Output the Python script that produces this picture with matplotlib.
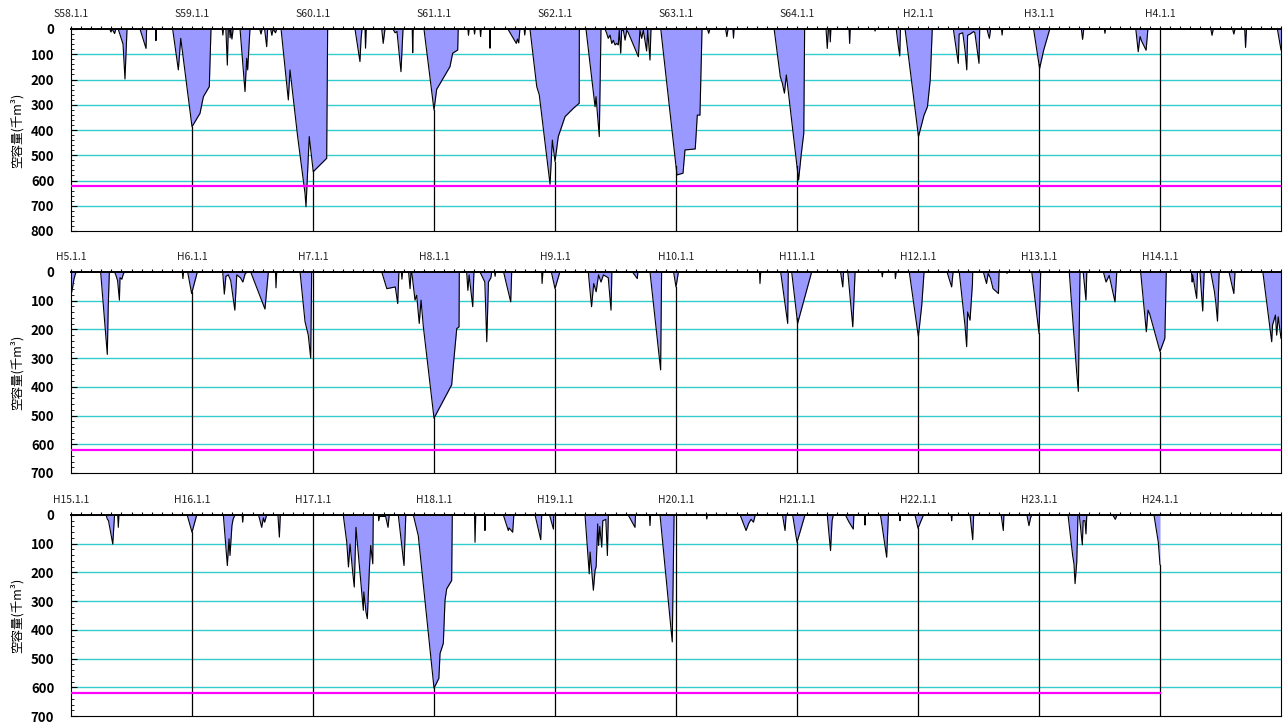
import numpy as np
import matplotlib
matplotlib.use("Agg")
import matplotlib.pyplot as plt
from matplotlib.ticker import MultipleLocator

plt.rcParams['font.family'] = ['Noto Sans CJK JP', 'DejaVu Sans']

# years since the first Jan 1 of each panel, empty capacity (千m3)
p1_labels = ['S58.1.1', 'S59.1.1', 'S60.1.1', 'S61.1.1', 'S62.1.1',
             'S63.1.1', 'S64.1.1', 'H2.1.1', 'H3.1.1', 'H4.1.1']
p1_t = [0, 0.32, 0.33, 0.34, 0.36, 0.37, 0.39, 0.43, 0.446, 0.463,
        0.57, 0.62, 0.625, 0.70, 0.702, 0.705,
        0.84, 0.887, 0.907, 1.0, 1.066, 1.094, 1.143, 1.157,
        1.25, 1.255, 1.26, 1.28, 1.292, 1.30, 1.31, 1.315, 1.32, 1.33, 1.34,
        1.397, 1.438, 1.452, 1.46, 1.479,
        1.56, 1.57, 1.58, 1.60, 1.617, 1.625, 1.65, 1.66, 1.67, 1.69, 1.70,
        1.736, 1.796, 1.810, 1.873, 1.934, 1.942, 1.969, 2.002, 2.113, 2.121,
        2.347, 2.388, 2.397, 2.405, 2.430, 2.434, 2.44,
        2.568, 2.58, 2.595, 2.661, 2.678, 2.694, 2.727, 2.744,
        2.82, 2.824, 2.828,
        2.917, 3.0, 3.022, 3.132, 3.154, 3.196, 3.2,
        3.28, 3.285, 3.29, 3.33, 3.335, 3.34, 3.38, 3.385, 3.39, 3.46, 3.463, 3.466,
        3.61, 3.68, 3.69, 3.70, 3.71, 3.745, 3.75, 3.755,
        3.793, 3.849, 3.870, 3.959, 3.978, 4.0, 4.027, 4.083, 4.152, 4.2, 4.201,
        4.256, 4.331, 4.339, 4.366, 4.38,
        4.413, 4.427, 4.440, 4.455, 4.469, 4.482, 4.496, 4.510, 4.523, 4.531,
        4.543, 4.551, 4.565, 4.579, 4.593, 4.606, 4.689, 4.702, 4.716, 4.730,
        4.757, 4.766, 4.785, 4.793, 4.799,
        4.874, 5.008, 5.058, 5.074, 5.159, 5.176, 5.198, 5.215,
        5.26, 5.27, 5.28, 5.41, 5.42, 5.43, 5.47, 5.475, 5.48,
        5.811, 5.862, 5.879, 5.896, 5.912, 6.013, 6.036, 6.056, 6.063,
        6.24, 6.25, 6.26, 6.27, 6.275, 6.28, 6.43, 6.435, 6.44,
        6.64, 6.645, 6.65, 6.82, 6.835, 6.849, 6.855,
        6.893, 7.004, 7.050, 7.078, 7.101, 7.118,
        7.292, 7.333, 7.34, 7.37, 7.39, 7.403, 7.41, 7.43, 7.46, 7.47, 7.504, 7.51,
        7.57, 7.58, 7.59, 7.60, 7.69, 7.695, 7.70,
        7.955, 8.005, 8.039, 8.089,
        8.35, 8.36, 8.37, 8.54, 8.545, 8.55,
        8.80, 8.82, 8.835, 8.85, 8.885, 8.90, 9.0,
        9.42, 9.43, 9.44, 9.6, 9.61, 9.62, 9.70, 9.707, 9.715, 9.97, 10.0]
p1_v = [0, 0, 12, 0, 18, 0, 0, 60, 198, 0,
        0, 77, 0, 0, 46, 0,
        0, 162, 37, 387, 334, 268, 228, 0,
        0, 24, 0, 0, 143, 0, 0, 35, 0, 40, 0,
        0, 248, 116, 162, 0,
        0, 20, 0, 0, 70, 0, 0, 25, 0, 15, 0,
        0, 281, 162, 426, 651, 704, 426, 565, 512, 0,
        0, 129, 40, 0, 0, 76, 0,
        0, 57, 0, 0, 15, 10, 169, 0,
        0, 94, 0,
        0, 321, 239, 149, 96, 83, 0,
        0, 25, 0, 0, 20, 0, 0, 30, 0, 0, 76, 0,
        0, 57, 40, 55, 0, 0, 24, 0,
        0, 228, 261, 615, 440, 525, 426, 347, 314, 294, 0,
        0, 308, 268, 426, 0,
        0, 17, 37, 24, 57, 45, 63, 57, 63, 5,
        96, 5, 5, 44, 5, 15, 110, 5, 37, 5,
        87, 5, 123, 5, 0,
        0, 578, 571, 479, 475, 341, 341, 0,
        0, 17, 0, 0, 30, 0, 0, 36, 0,
        0, 189, 215, 254, 182, 598, 492, 413, 0,
        0, 77, 0, 0, 51, 0, 0, 57, 0,
        0, 8, 0, 0, 60, 107, 0,
        0, 426, 341, 308, 202, 0,
        0, 136, 20, 15, 90, 162, 25, 20, 10, 15, 136, 0,
        0, 20, 37, 0, 0, 24, 0,
        0, 156, 83, 0,
        0, 41, 0, 0, 17, 0,
        0, 90, 30, 50, 84, 0, 0,
        0, 25, 0, 0, 20, 0, 0, 73, 0, 0, 83]

p2_labels = ['H5.1.1', 'H6.1.1', 'H7.1.1', 'H8.1.1', 'H9.1.1',
             'H10.1.1', 'H11.1.1', 'H12.1.1', 'H13.1.1', 'H14.1.1']
p2_t = [0, 0.014, 0.025, 0.041,
        0.245, 0.300, 0.308, 0.317,
        0.36, 0.37, 0.385, 0.40, 0.405, 0.42, 0.43, 0.44,
        0.92, 0.925, 0.93, 0.964, 0.997, 1.044,
        1.254, 1.267, 1.28, 1.30, 1.32, 1.354, 1.37, 1.40, 1.42, 1.44, 1.46,
        1.485, 1.603, 1.631, 1.69, 1.694, 1.70,
        1.893, 1.934, 1.961, 1.981, 1.989,
        2.568, 2.61, 2.68, 2.70, 2.71, 2.73, 2.735, 2.74, 2.79, 2.802, 2.81,
        2.816, 2.843, 2.857, 2.878, 2.893, 2.912, 3.0, 3.146, 3.160, 3.188, 3.207, 3.209,
        3.27, 3.28, 3.29, 3.32, 3.33,
        3.38, 3.42, 3.436, 3.45, 3.47, 3.477, 3.50, 3.505, 3.51,
        3.575, 3.634, 3.642, 3.89, 3.893, 3.90,
        3.97, 4.0, 4.04,
        4.275, 4.302, 4.32, 4.34, 4.36, 4.38, 4.40, 4.44, 4.463, 4.47,
        4.64, 4.68, 4.685,
        4.785, 4.873, 4.881, 4.98, 5.0, 5.02,
        5.69, 5.694, 5.70,
        5.865, 5.923, 5.928, 5.956, 6.005, 6.121,
        6.36, 6.378, 6.385, 6.42, 6.461, 6.48,
        6.70, 6.705, 6.71, 6.81, 6.813, 6.82,
        6.928, 7.003, 7.031, 7.05,
        7.24, 7.278, 7.29,
        7.341, 7.388, 7.402, 7.41, 7.43, 7.45, 7.452,
        7.54, 7.566, 7.58, 7.60, 7.62, 7.665, 7.67, 7.73, 7.735, 7.74,
        7.94, 8.0, 8.014,
        8.25, 8.311, 8.325, 8.339, 8.365, 8.388, 8.395,
        8.532, 8.554, 8.58, 8.628, 8.643,
        8.840, 8.887, 8.901, 8.914, 9.0, 9.04, 9.052,
        9.26, 9.266, 9.27, 9.303, 9.31, 9.33, 9.353, 9.365,
        9.42, 9.45, 9.462, 9.475, 9.489,
        9.57, 9.61, 9.62,
        9.85, 9.923, 9.93, 9.954, 9.964, 9.977, 10.0]
p2_v = [81, 52, 23, 0,
        0, 287, 116, 0,
        0, 10, 30, 98, 20, 25, 10, 0,
        0, 23, 0, 0, 75, 0,
        0, 77, 15, 10, 30, 133, 10, 20, 35, 5, 0,
        0, 129, 0, 0, 55, 0,
        0, 173, 220, 300, 0,
        0, 58, 52, 110, 0, 0, 25, 0, 0, 58, 0,
        0, 98, 81, 179, 98, 191, 509, 393, 324, 197, 191, 0,
        0, 64, 10, 121, 0,
        0, 35, 243, 35, 20, 0, 0, 15, 0,
        0, 104, 0, 0, 40, 0,
        0, 58, 0,
        0, 121, 40, 69, 10, 35, 10, 20, 133, 0,
        0, 23, 0,
        0, 341, 0, 0, 52, 0,
        0, 40, 0,
        0, 179, 0, 0, 179, 0,
        0, 52, 0, 0, 191, 0,
        0, 17, 0, 0, 23, 0,
        0, 225, 116, 0,
        0, 52, 0,
        0, 185, 260, 139, 168, 40, 0,
        0, 40, 5, 23, 58, 75, 0, 0, 5, 0,
        0, 214, 0,
        0, 347, 416, 0, 0, 98, 0,
        0, 35, 12, 104, 0,
        0, 208, 133, 145, 277, 231, 0,
        0, 35, 10, 92, 0, 0, 136, 0,
        0, 69, 110, 171, 0,
        0, 75, 0,
        0, 243, 185, 150, 220, 156, 231]

p3_labels = ['H15.1.1', 'H16.1.1', 'H17.1.1', 'H18.1.1', 'H19.1.1',
             'H20.1.1', 'H21.1.1', 'H22.1.1', 'H23.1.1', 'H24.1.1']
p3_t = [0, 0.29, 0.30, 0.31, 0.345, 0.36, 0.386, 0.391, 0.396,
        0.96, 1.0, 1.039,
        1.259, 1.292, 1.306, 1.314, 1.33, 1.34, 1.355,
        1.414, 1.419, 1.424, 1.55, 1.576, 1.59, 1.60, 1.617, 1.71, 1.722, 1.73,
        2.25, 2.279, 2.293, 2.306, 2.328, 2.341, 2.355, 2.388, 2.416, 2.42,
        2.438, 2.449, 2.466, 2.477, 2.494, 2.498,
        2.54, 2.543, 2.55, 2.60, 2.62, 2.63,
        2.705, 2.752, 2.767,
        2.829, 2.870, 3.0, 3.04, 3.05, 3.077, 3.091, 3.105, 3.146, 3.151,
        3.335, 3.339, 3.345, 3.418, 3.421, 3.425,
        3.573, 3.614, 3.62, 3.65, 3.66,
        3.835, 3.882, 3.89, 3.955, 3.987, 3.99,
        4.248, 4.283, 4.29, 4.317, 4.331, 4.34, 4.353, 4.36, 4.37, 4.386, 4.395,
        4.42, 4.433, 4.441,
        4.605, 4.661, 4.665, 4.78, 4.785, 4.79,
        4.868, 4.969, 4.984,
        5.25, 5.254, 5.26,
        5.53, 5.579, 5.60, 5.62, 5.64, 5.655,
        5.88, 5.901, 5.91,
        5.964, 6.0, 6.066,
        6.25, 6.277, 6.29, 6.30,
        6.40, 6.43, 6.465, 6.47, 6.558, 6.562, 6.566,
        6.69, 6.741, 6.755, 6.848, 6.851, 6.855,
        6.975, 7.0, 7.045,
        7.274, 7.278, 7.282, 7.43, 7.452, 7.46,
        7.687, 7.705, 7.71, 7.90, 7.917, 7.93, 7.94,
        8.24, 8.278, 8.289, 8.298, 8.312, 8.322,
        8.333, 8.358, 8.365, 8.38, 8.388, 8.395,
        8.61, 8.63, 8.645,
        8.95, 8.986, 9.0]
p3_v = [0, 0, 14, 20, 101, 0, 0, 43, 0,
        0, 60, 0,
        0, 176, 83, 141, 37, 14, 0,
        0, 25, 0, 0, 43, 10, 25, 0, 0, 77, 0,
        0, 95, 181, 101, 199, 251, 43, 199, 332, 268,
        338, 361, 187, 106, 170, 0,
        0, 20, 5, 5, 43, 0,
        0, 176, 0,
        0, 72, 603, 569, 482, 447, 297, 257, 228, 0,
        0, 95, 0, 0, 54, 0,
        0, 54, 45, 60, 0,
        0, 86, 0, 0, 49, 0,
        0, 205, 129, 262, 193, 180, 31, 106, 40, 112, 20,
        15, 141, 0,
        0, 43, 0, 0, 37, 0,
        0, 442, 0,
        0, 14, 0,
        0, 54, 30, 15, 25, 0,
        0, 54, 0,
        0, 95, 0,
        0, 124, 20, 0,
        0, 25, 49, 0, 0, 35, 0,
        0, 147, 0, 0, 20, 0,
        0, 46, 0,
        0, 20, 0, 0, 86, 0,
        0, 54, 0, 0, 37, 10, 0,
        0, 141, 170, 239, 164, 0,
        0, 104, 20, 20, 66, 0,
        0, 15, 0,
        0, 95, 173]

limit_line = 620  # 千m3
panel_ymax = [800, 700, 700]
limit_end = [10, 10, 9]

panels = [(p1_t, p1_v, p1_labels), (p2_t, p2_v, p2_labels), (p3_t, p3_v, p3_labels)]

fig = plt.figure(figsize=(12.87, 7.25), dpi=100)
left, width = 71 / 1287, 1210 / 1287
rects = [(29, 231), (272, 473), (515, 716)]

for i, (t, v, labels) in enumerate(panels):
    top_px, bot_px = rects[i]
    ax = fig.add_axes([left, 1 - bot_px / 725, width, (bot_px - top_px) / 725])
    ymax = panel_ymax[i]
    t = np.array(t)
    v = np.array(v)

    for g in range(100, ymax, 100):
        ax.axhline(g, color='#33CCCC', lw=1.0, zorder=1)

    ax.fill_between(t, 0, v, color='#9999FF', lw=0, zorder=2)
    ax.plot(t, v, color='black', lw=0.8, zorder=3)

    # drop lines at each Jan 1
    for k in range(1, 10):
        if k > t.max():
            continue
        val = np.interp(k, t, v)
        ax.plot([k, k], [val, ymax], color='black', lw=0.9, zorder=3)

    ax.plot([0, limit_end[i]], [limit_line, limit_line], color='#FF00FF', lw=1.6, zorder=4)

    ax.set_xlim(0, 10)
    ax.set_ylim(ymax, 0)

    ax.xaxis.tick_top()
    ax.set_xticks(np.arange(10))
    ax.set_xticklabels(labels, fontsize=7.5, color='#222222')
    ax.xaxis.set_minor_locator(MultipleLocator(1 / 12))
    ax.tick_params(axis='x', which='both', direction='out', length=2.5, width=0.8, pad=5)

    ax.set_yticks(np.arange(0, ymax + 1, 100))
    ax.yaxis.set_minor_locator(MultipleLocator(20))
    ax.tick_params(axis='y', which='major', direction='in', length=4, width=0.8,
                   labelsize=9.5, pad=12)
    ax.tick_params(axis='y', which='minor', direction='in', length=2.5, width=0.6)
    for lab in ax.get_yticklabels():
        lab.set_fontweight('bold')

    for side in ['left', 'right', 'bottom']:
        ax.spines[side].set_linewidth(0.8)
    ax.spines['top'].set_linewidth(1.4)

    ax.set_ylabel('空容量(千m³)', fontsize=9, labelpad=5)

fig.savefig('out.png', dpi=100)
